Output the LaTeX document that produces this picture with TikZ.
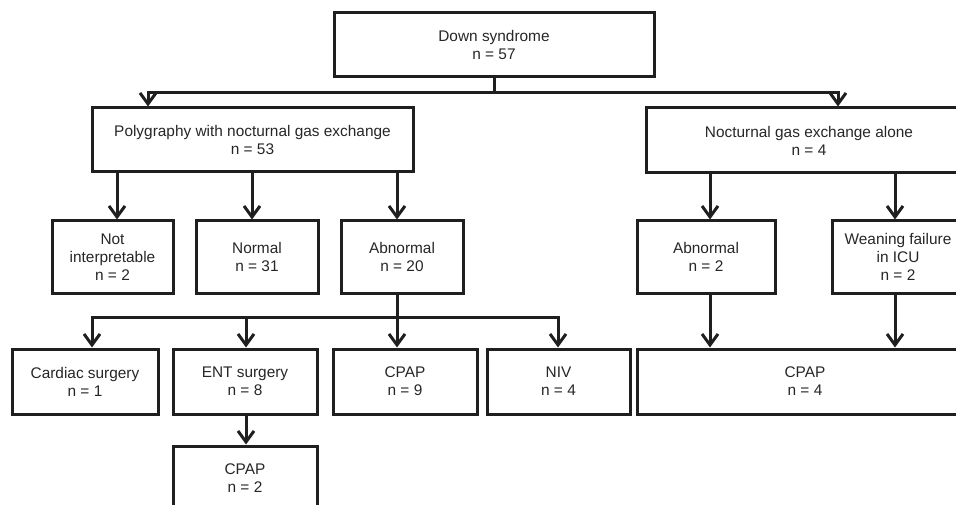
\documentclass[tikz,border=0pt]{standalone}
\usepackage{fontspec}
\setmainfont{Liberation Sans}
\usetikzlibrary{arrows.meta}
\tikzset{
  box/.style={draw=black!88, line width=3pt, inner sep=0pt, align=center,
    minimum height=64pt, text=black!85, font=\fontsize{15.4}{18}\selectfont},
  link/.style={draw=black!88, line width=3pt,
    -{Straight Barb[length=11pt,width=16pt]}},
}

\begin{document}
\begin{tikzpicture}[x=1pt,y=-1pt]
  \useasboundingbox (0,0) rectangle (956,505);
  % first two levels
  \node[box, minimum width=320pt] (ds) at (494,45) {Down syndrome\\n = 57};
  \node[box, minimum width=321pt] (poly) at (252.5,140) {Polygraphy with nocturnal gas exchange\\n = 53};
  \node[box, minimum width=326pt, minimum height=65pt] (alone) at (809,140.5) {Nocturnal gas exchange alone\\n = 4};
  % results
  \node[box, minimum width=121pt, minimum height=72pt] (notint) at (112.5,257) {Not\\interpretable\\n = 2};
  \node[box, minimum width=122pt, minimum height=72pt] (normal) at (257,257) {Normal\\n = 31};
  \node[box, minimum width=122pt, minimum height=72pt] (abn) at (402,257) {Abnormal\\n = 20};
  \node[box, minimum width=138pt, minimum height=72pt] (abnb) at (706,257) {Abnormal\\n = 2};
  \node[box, minimum width=132pt, minimum height=72pt] (wean) at (898,257) {Weaning failure\\in ICU\\n = 2};
  % treatments
  \node[box, minimum width=146pt, minimum height=65pt] (cardiac) at (85,381.5) {Cardiac surgery\\n = 1};
  \node[box, minimum width=144pt, minimum height=65pt] (ent) at (245,381.5) {ENT surgery\\n = 8};
  \node[box, minimum width=144pt, minimum height=65pt] (cpapa) at (405,381.5) {CPAP\\n = 9};
  \node[box, minimum width=143pt, minimum height=65pt] (niv) at (558.5,381.5) {NIV\\n = 4};
  \node[box, minimum width=336pt, minimum height=65pt] (cpapc) at (805,381.5) {CPAP\\n = 4};
  \node[box, minimum width=144pt] (cpapb) at (245,478) {CPAP\\n = 2};

  \coordinate (split) at (ds.south |- 0,93);
  \draw[link] (ds.south) -- (split) -| (poly.north -| 148,0);
  \draw[link] (split) -| (alone.north -| 838,0);
  \foreach \x/\child in {117/notint, 252/normal, 397/abn}
    \draw[link] (poly.south -| \x,0) -- (\child.north -| \x,0);
  \foreach \x/\child in {710/abnb, 895/wean}
    \draw[link] (alone.south -| \x,0) -- (\child.north -| \x,0);
  \coordinate (treat) at (397,317);
  \draw[draw=black!88, line width=3pt] (abn.south -| treat) -- (treat);
  \foreach \x/\child in {92/cardiac, 246/ent, 397/cpapa, 558/niv}
    \draw[link] (treat) -| (\child.north -| \x,0);
  \draw[link] (ent.south -| 246,0) -- (cpapb.north -| 246,0);
  \foreach \x/\child in {710/abnb, 895/wean}
    \draw[link] (\child.south -| \x,0) -- (cpapc.north -| \x,0);
\end{tikzpicture}
\end{document}
